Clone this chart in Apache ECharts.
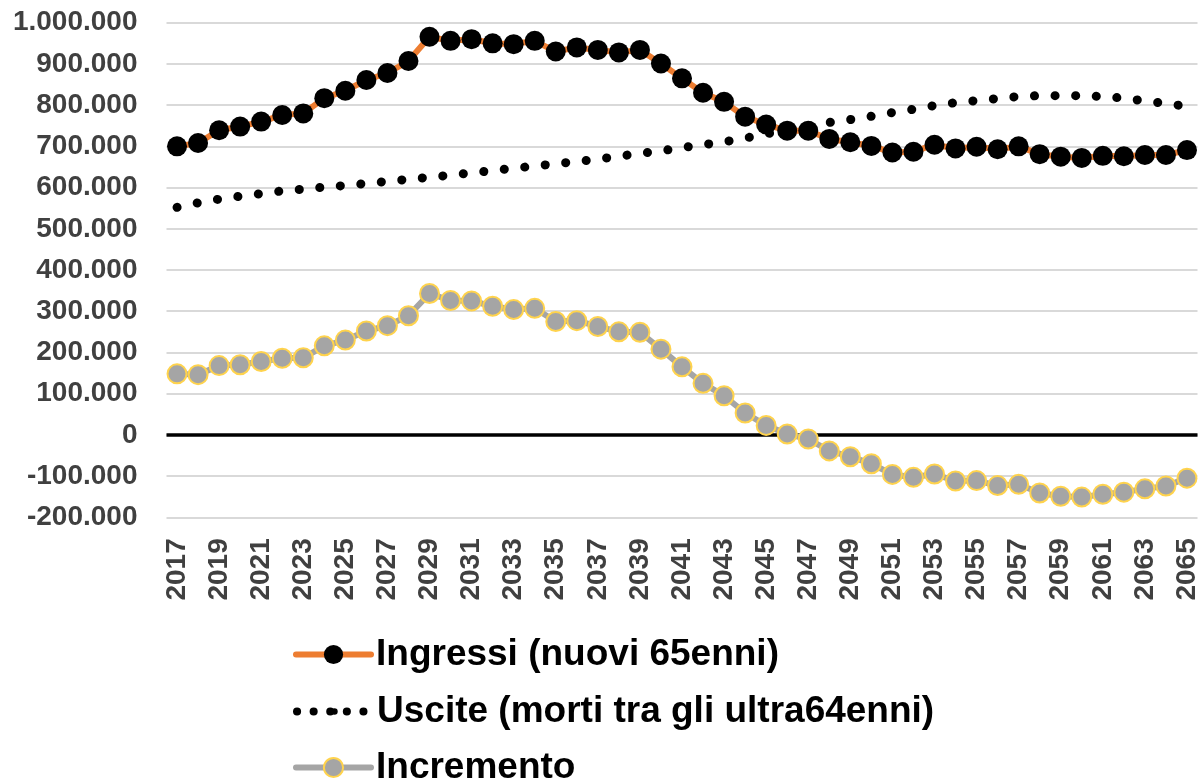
<!DOCTYPE html>
<html><head><meta charset="utf-8">
<script src="https://cdn.jsdelivr.net/npm/echarts@6/dist/echarts.min.js"></script>
<style>html,body{margin:0;padding:0;background:#fff}#c{width:1204px;height:783px}</style>
</head><body><div id="c"></div>
<script>
const years = ['2017','2018','2019','2020','2021','2022','2023','2024','2025','2026','2027','2028','2029','2030','2031','2032','2033','2034','2035','2036','2037','2038','2039','2040','2041','2042','2043','2044','2045','2046','2047','2048','2049','2050','2051','2052','2053','2054','2055','2056','2057','2058','2059','2060','2061','2062','2063','2064','2065'];
const ingressi = [700000,708000,739000,748000,760000,776000,780000,817000,835000,861000,878000,907000,966000,956000,960000,950000,948000,956000,930000,940000,934000,928000,934000,901000,865000,830000,808000,772000,753000,738000,738000,718000,710000,701000,685000,687000,704000,695000,699000,693000,700000,681000,675000,672000,677000,676000,679000,679000,691000];
const uscite = [552000,563000,572000,579000,585000,592000,596000,601000,605000,610000,615000,620000,625000,630000,636000,641000,647000,652000,658000,663000,669000,676000,683000,689000,697000,704000,711000,720000,730000,740000,749000,758000,765000,773000,782000,790000,799000,806000,811000,816000,821000,823000,823000,823000,821000,817000,810000,804000,797000];
const incremento = [148000,146000,168000,170000,178000,186000,187000,216000,230000,252000,265000,289000,343000,326000,325000,312000,304000,307000,275000,277000,263000,250000,249000,208000,165000,125000,95000,53000,23000,2000,-10000,-39000,-53000,-70000,-96000,-103000,-95000,-112000,-111000,-123000,-120000,-141000,-149000,-151000,-144000,-139000,-131000,-124000,-105000];
const seriesNames = ['Ingressi (nuovi 65enni)','Uscite (morti tra gli ultra64enni)','Incremento'];
const yMin = -200000, yMax = 1000000, yStep = 100000;

function fmt(v){
  const s = String(Math.abs(v)).replace(/\B(?=(\d{3})+(?!\d))/g, '.');
  return (v < 0 ? '-' : '') + s;
}
const FONT = "'Liberation Sans', Arial, sans-serif";
const legendText = {fontSize:37, fontWeight:'bold', color:'#000', fontFamily:FONT};

const chart = echarts.init(document.getElementById('c'), null, {renderer:'canvas'});
chart.setOption({
  animation:false,
  grid:{left:166.5, right:6.5, top:22.7, bottom:265.7, containLabel:false},
  xAxis:{type:'category', data:years, boundaryGap:true,
    axisLine:{show:false}, axisTick:{show:false}, splitLine:{show:false},
    axisLabel:{interval:1, rotate:90, margin:21, fontSize:28, fontWeight:'bold', color:'#404040', fontFamily:FONT}},
  yAxis:{type:'value', min:yMin, max:yMax, interval:yStep,
    axisLine:{show:false}, axisTick:{show:false},
    splitLine:{lineStyle:{color:'#D9D9D9', width:2}},
    axisLabel:{formatter:fmt, margin:29, fontSize:28, fontWeight:'bold', color:'#404040', fontFamily:FONT}},
  legend:[
    {data:[seriesNames[0]], left:293, top:636, orient:'vertical', padding:0, itemWidth:75, itemHeight:24,
     selectedMode:false, lineStyle:{width:6, cap:'round'}, textStyle:legendText},
    {data:[seriesNames[1]], left:293, top:693, orient:'vertical', padding:0, itemWidth:75, itemHeight:8,
     selectedMode:false, lineStyle:{width:8, type:[0.1,16.5], cap:'round'}, textStyle:legendText},
    {data:[seriesNames[2]], left:293, top:749, orient:'vertical', padding:0, itemWidth:75, itemHeight:24,
     selectedMode:false, lineStyle:{width:6, cap:'round'}, textStyle:legendText}
  ],
  series:[
    {name:seriesNames[1], type:'line', data:uscite, symbol:'none', z:2,
     itemStyle:{color:'#000'},
     lineStyle:{color:'#000', width:9, type:[0.1,20.5], cap:'round'},
     emphasis:{disabled:true}},
    {name:seriesNames[0], type:'line', data:ingressi, symbol:'circle', symbolSize:20, showAllSymbol:true, z:3,
     itemStyle:{color:'#000'},
     lineStyle:{color:'#ED7D31', width:6, join:'round'},
     emphasis:{disabled:true}},
    {name:seriesNames[2], type:'line', data:incremento, symbol:'circle', symbolSize:19, showAllSymbol:true, z:3,
     itemStyle:{color:'#A5A5A5', borderColor:'#FFD34D', borderWidth:2},
     lineStyle:{color:'#A5A5A5', width:6, join:'round'},
     emphasis:{disabled:true},
     markLine:{silent:true, z:1, symbol:'none', label:{show:false},
       lineStyle:{color:'#000', width:3.5, type:'solid'}, data:[{yAxis:0}]}}
  ]
});
</script></body></html>
